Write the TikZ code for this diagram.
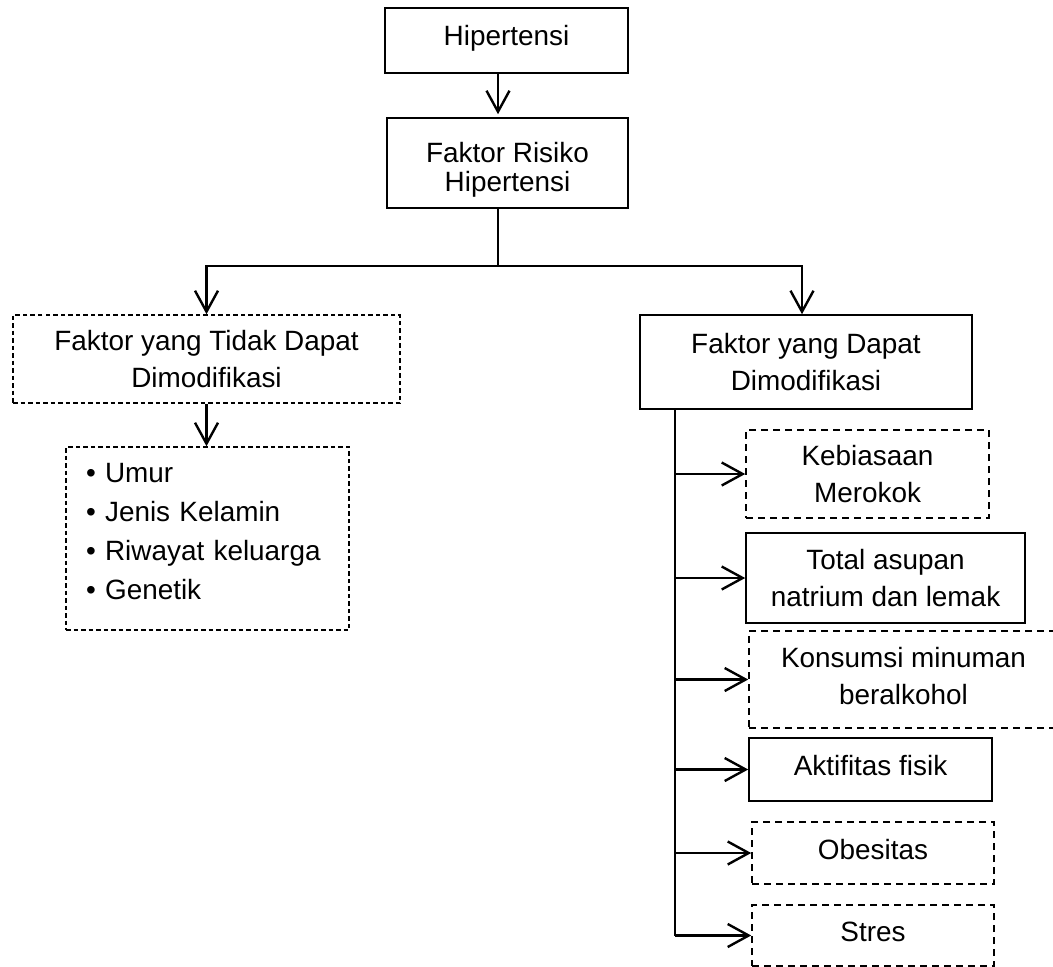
\documentclass[tikz,border=0pt]{standalone}
\usepackage{fontspec}
\setmainfont{Liberation Sans}
\usetikzlibrary{arrows.meta}
\begin{document}
\begin{tikzpicture}[x=1pt,y=-1pt,
  box/.style={draw, line width=1.6pt, inner sep=0pt, align=center,
    font=\fontsize{27.9}{37}\selectfont},
  sbox/.style={box},
  dbox/.style={box, dash pattern=on 7pt off 5pt},
  fbox/.style={box, dash pattern=on 4.5pt off 3pt},
  conn/.style={line width=2.2pt},
  arr/.style={conn, -{Straight Barb[length=21pt,width=23pt,line width=2.4pt]}}]
\useasboundingbox (0,0) rectangle (1053,967);
\clip (0,0) rectangle (1053,967);

\node[sbox, minimum width=243pt, minimum height=65pt, text depth=11pt] (hip) at (506.5,40.5) {Hipertensi};
\node[sbox, minimum width=241pt, minimum height=90pt, font=\fontsize{27.9}{29.4}\selectfont] (fr) at (507.5,163)
  {\rule{0pt}{33.8pt}Faktor Risiko\\Hipertensi};
\node[fbox, minimum width=387pt, minimum height=88pt] (tdk) at (206.5,359) {Faktor yang Tidak Dapat\\Dimodifikasi};
\node[sbox, minimum width=332pt, minimum height=94pt] (dpt) at (806,362) {Faktor yang Dapat\\Dimodifikasi};
\node[fbox, minimum width=283pt, minimum height=183pt, text width=243pt, inner xsep=20pt, inner ysep=0pt,
  align=left, font=\fontsize{27.9}{39}\selectfont] (lst) at (207.5,538.5)
  {• Umur\\• Jenis Kelamin\\• Riwayat keluarga\\• Genetik\rule[-14pt]{0pt}{14pt}};
\node[dbox, minimum width=243pt, minimum height=88pt] (keb) at (867.5,474) {Kebiasaan\\Merokok};
\node[sbox, minimum width=279pt, minimum height=90pt] (tot) at (885.5,578) {Total asupan\\natrium dan lemak};
\node[dbox, minimum width=309pt, minimum height=97pt] (kon) at (903.5,679.5) {Konsumsi minuman\\beralkohol\rule[-8pt]{0pt}{8pt}};
\node[sbox, minimum width=243pt, minimum height=63pt, text depth=8pt] (akt) at (870.5,769.5) {Aktifitas fisik};
\node[dbox, minimum width=242pt, minimum height=62pt, text depth=8pt] (obe) at (873,853) {Obesitas};
\node[dbox, minimum width=242pt, minimum height=61pt, text depth=8pt] (str) at (873,935.5) {Stres};

\coordinate (jt) at (498,266);
\coordinate (jr) at (802,266);
\coordinate (vb) at (675,935.5);

\draw[arr, shorten >=3pt] (hip.south -| jt) -- (fr.north -| jt);
\draw[conn] (fr.south -| jt) -- (jt);
\draw[arr] (jt) -| (tdk.north);
\draw[arr] (jt) -- (jr) -- (dpt.north -| jr);
\draw[arr] (tdk.south) -- (tdk.south |- lst.north);

\draw[conn] (dpt.south -| vb) -- (vb);
\draw[arr] (keb.west -| vb) -- (keb.west);
\draw[arr] (tot.west -| vb) -- (tot.west);
\draw[arr] (kon.west -| vb) -- (kon.west);
\draw[arr] (akt.west -| vb) -- (akt.west);
\draw[arr] (obe.west -| vb) -- (obe.west);
\draw[arr] (vb) -- (str.west);
\end{tikzpicture}
\end{document}
